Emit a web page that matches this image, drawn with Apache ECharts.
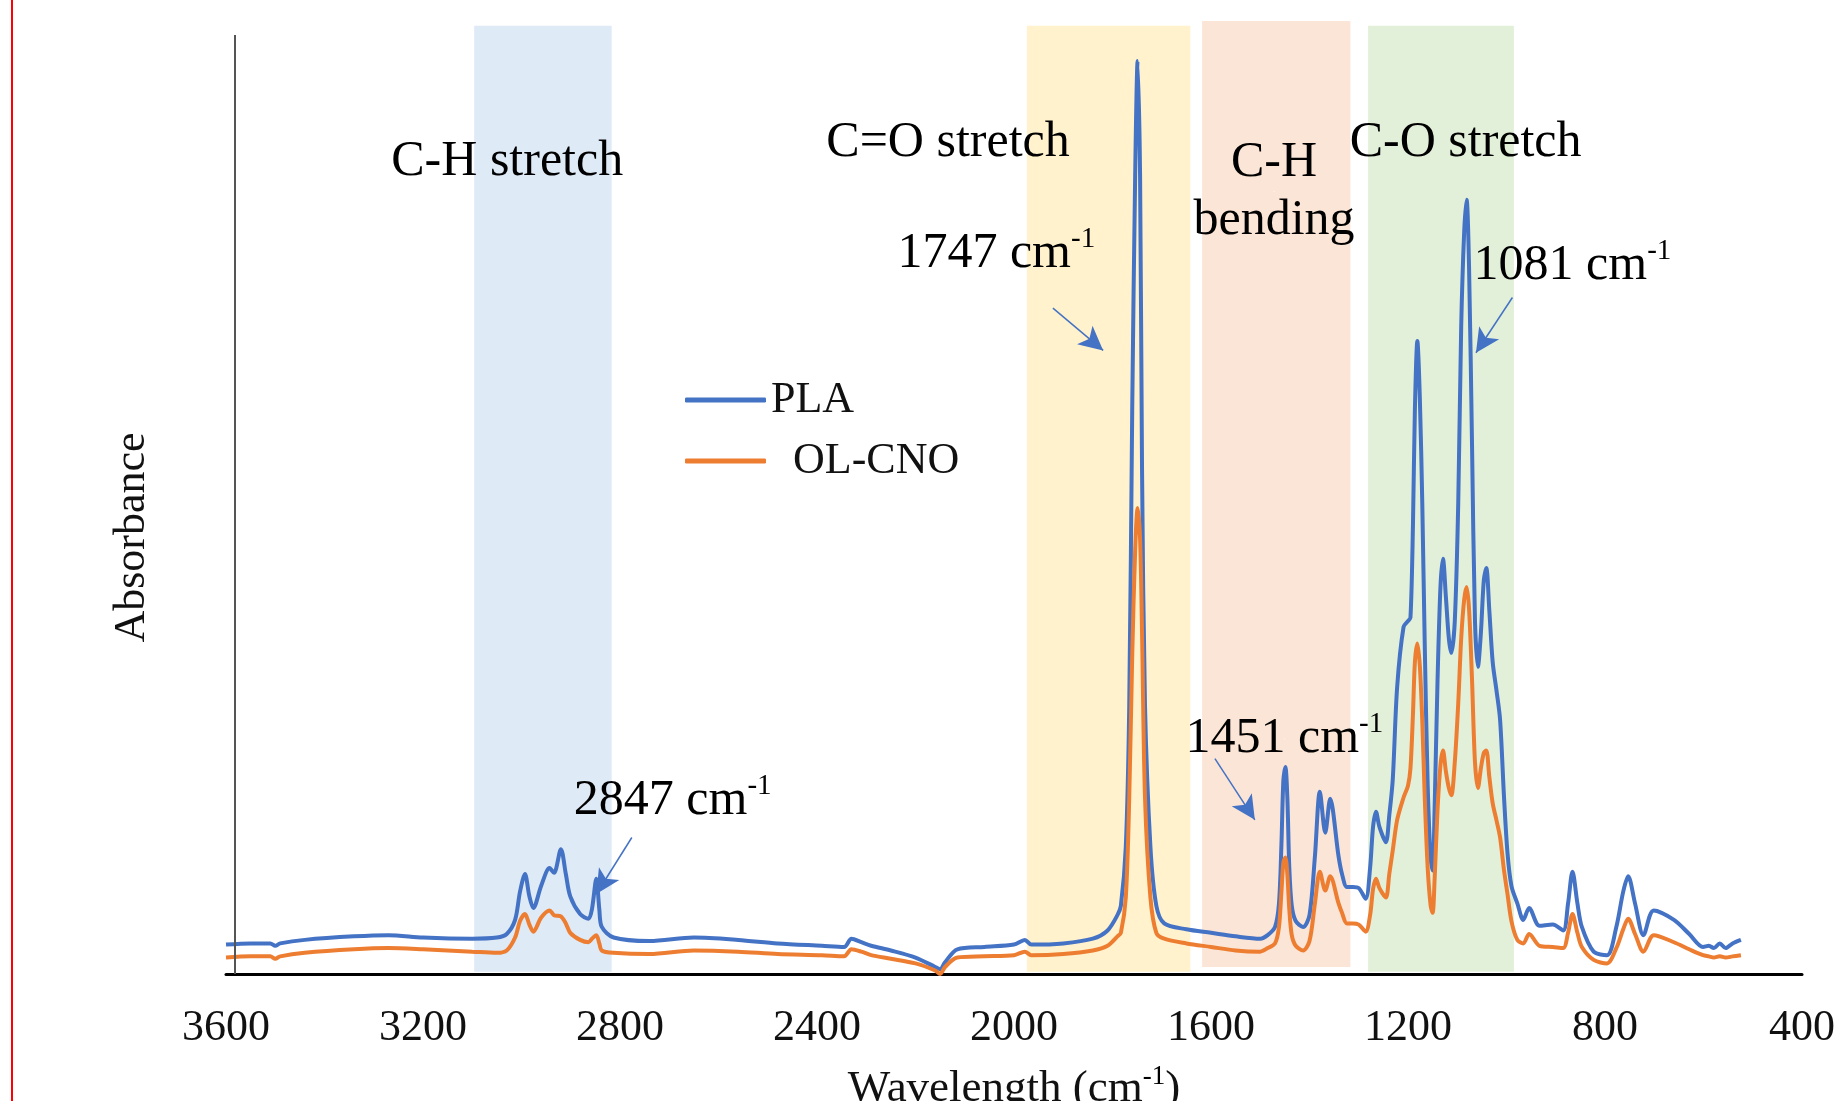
<!DOCTYPE html>
<html>
<head>
<meta charset="utf-8">
<title>FTIR PLA / OL-CNO</title>
<script src="https://cdn.jsdelivr.net/npm/echarts@6/dist/echarts.min.js"></script>
<style>
  html, body { margin: 0; padding: 0; background: #fff; }
  #chart { width: 1844px; height: 1101px; }
</style>
</head>
<body>
<div id="chart"></div>
<script>
// Wavenumber (cm-1) and absorbance.
const wavenumbers = [
  3600, 3550, 3510, 3500, 3490, 3440, 3340, 3270, 3200, 3100, 3050, 3030, 3013, 3003, 2993, 2984, 2976, 2960,
  2943, 2934, 2920, 2910, 2901, 2881, 2864, 2857, 2848, 2842, 2837, 2813, 2740, 2650, 2560, 2480, 2390, 2345,
  2330, 2310, 2290, 2250, 2200, 2160, 2150, 2140, 2115, 2060, 2000, 1978, 1965, 1900, 1840, 1810, 1790, 1783,
  1773, 1766, 1760, 1754, 1749, 1744, 1740, 1734, 1723, 1711, 1695, 1650, 1600, 1550, 1500, 1485, 1470, 1462,
  1457, 1453, 1449, 1445, 1441, 1436, 1428, 1413, 1400, 1389, 1379, 1368, 1358, 1341, 1334, 1324, 1312, 1300,
  1286, 1277, 1271, 1265, 1258, 1245, 1238, 1231, 1222, 1209, 1200, 1195, 1190, 1186, 1181, 1176, 1171, 1166,
  1160, 1154, 1150, 1146, 1140, 1134, 1129, 1123, 1117, 1112, 1105, 1098, 1092, 1086, 1081, 1076, 1070, 1064,
  1058, 1052, 1046, 1041, 1035, 1028, 1020, 1013, 1005, 998, 990, 978, 966, 954, 933, 906, 885, 875,
  866, 856, 847, 823, 796, 777, 763, 753, 739, 722, 701, 660, 629, 601, 589, 579, 567, 555,
  541, 524
];
const plaAbs = [
  0.025, 0.026, 0.026, 0.024, 0.026, 0.029, 0.032, 0.033, 0.031, 0.030, 0.031, 0.034, 0.046, 0.070, 0.085, 0.066, 0.056, 0.075,
  0.090, 0.086, 0.106, 0.085, 0.066, 0.051, 0.047, 0.055, 0.081, 0.055, 0.040, 0.031, 0.028, 0.031, 0.029, 0.026, 0.024, 0.023,
  0.030, 0.027, 0.024, 0.020, 0.014, 0.006, 0.004, 0.010, 0.021, 0.023, 0.025, 0.029, 0.025, 0.026, 0.030, 0.037, 0.050, 0.058,
  0.108, 0.228, 0.478, 0.678, 0.776, 0.678, 0.428, 0.228, 0.108, 0.058, 0.043, 0.038, 0.035, 0.032, 0.030, 0.033, 0.040, 0.060,
  0.110, 0.165, 0.176, 0.150, 0.090, 0.058, 0.045, 0.040, 0.050, 0.100, 0.155, 0.120, 0.149, 0.100, 0.085, 0.074, 0.074, 0.073,
  0.064, 0.090, 0.125, 0.138, 0.125, 0.112, 0.135, 0.165, 0.244, 0.295, 0.300, 0.303, 0.380, 0.480, 0.538, 0.490, 0.400, 0.280,
  0.160, 0.098, 0.088, 0.140, 0.250, 0.330, 0.353, 0.320, 0.285, 0.273, 0.300, 0.400, 0.550, 0.630, 0.658, 0.600, 0.450, 0.300,
  0.261, 0.290, 0.335, 0.345, 0.310, 0.265, 0.240, 0.216, 0.150, 0.103, 0.075, 0.060, 0.046, 0.056, 0.041, 0.042, 0.037, 0.060,
  0.087, 0.060, 0.040, 0.019, 0.016, 0.040, 0.070, 0.083, 0.060, 0.033, 0.054, 0.046, 0.034, 0.023, 0.024, 0.022, 0.026, 0.022,
  0.026, 0.029
];
const olcnoAbs = [
  0.014, 0.015, 0.015, 0.013, 0.015, 0.018, 0.021, 0.022, 0.021, 0.019, 0.018, 0.020, 0.031, 0.045, 0.051, 0.042, 0.036, 0.048,
  0.054, 0.050, 0.049, 0.043, 0.035, 0.029, 0.027, 0.030, 0.033, 0.026, 0.020, 0.018, 0.017, 0.020, 0.019, 0.017, 0.016, 0.015,
  0.021, 0.019, 0.016, 0.013, 0.009, 0.003, 0.000, 0.006, 0.014, 0.015, 0.016, 0.019, 0.016, 0.017, 0.020, 0.024, 0.032, 0.035,
  0.065, 0.150, 0.270, 0.360, 0.396, 0.370, 0.290, 0.150, 0.065, 0.035, 0.030, 0.026, 0.023, 0.020, 0.019, 0.022, 0.026, 0.040,
  0.070, 0.095, 0.099, 0.085, 0.055, 0.033, 0.024, 0.020, 0.028, 0.060, 0.087, 0.071, 0.083, 0.060, 0.052, 0.043, 0.043, 0.042,
  0.036, 0.050, 0.072, 0.081, 0.073, 0.065, 0.085, 0.105, 0.131, 0.150, 0.160, 0.175, 0.220, 0.265, 0.281, 0.262, 0.215, 0.150,
  0.090, 0.058, 0.052, 0.080, 0.140, 0.178, 0.190, 0.172, 0.158, 0.152, 0.180, 0.230, 0.285, 0.318, 0.329, 0.310, 0.250, 0.180,
  0.158, 0.175, 0.188, 0.190, 0.168, 0.145, 0.130, 0.116, 0.088, 0.068, 0.045, 0.029, 0.026, 0.034, 0.024, 0.023, 0.022, 0.035,
  0.051, 0.035, 0.023, 0.012, 0.009, 0.022, 0.038, 0.047, 0.034, 0.019, 0.033, 0.027, 0.021, 0.016, 0.015, 0.014, 0.015, 0.014,
  0.015, 0.016
];

// Shaded band regions (cm-1) and their fills.
const bandFrom = [3096, 1974, 1618, 1281];
const bandTo = [2817, 1642, 1317, 985];
const bandTop = [0.806, 0.806, 0.810, 0.806];
const bandBottom = [0.002, 0.002, 0.006, 0.002];
const bandColor = ["#DEEAF6", "#FFF2CC", "#FBE5D6", "#E2F0D9"];

// Annotation texts and where they sit (cm-1, absorbance).
const noteText = ["C-H stretch", "C=O stretch", "C-H\nbending", "C-O stretch",
  "1747 cm{s|-1}", "1081 cm{s|-1}", "1451 cm{s|-1}", "2847 cm{s|-1}"];
const noteWn = [3029, 2134, 1472, 1083, 2036, 866, 1451, 2693];
const noteAbs = [0.690, 0.706, 0.665, 0.706, 0.612, 0.602, 0.200, 0.147];

// Arrows pointing at the labelled peaks.
const arrowFrom = [[1921, 0.566], [988, 0.575], [1592, 0.183], [2776, 0.116]];
const arrowTo = [[1819, 0.530], [1062, 0.528], [1511, 0.131], [2848, 0.068]];

const xTicks = { min: 400, max: 3600, step: 400 };
const yAxisLineAt = 3583;
const yAxisLineTop = 0.798;

const SERIF = "'Liberation Serif', 'Times New Roman', serif";
const supStyle = { fontSize: 29, lineHeight: 30, verticalAlign: "top", fontFamily: SERIF, color: "#000" };

const chart = echarts.init(document.getElementById("chart"), null, { renderer: "canvas" });

const pla = wavenumbers.map((w, i) => [w, plaAbs[i]]);
const olcno = wavenumbers.map((w, i) => [w, olcnoAbs[i]]);

chart.setOption({
  backgroundColor: "#fff",
  animation: false,
  textStyle: { fontFamily: SERIF },
  graphic: [
    { type: "rect", left: 11, top: 0, shape: { width: 2, height: 1101 }, style: { fill: "#ff0000" }, silent: true },
  ],
  grid: { left: 226, right: 42, top: 21, bottom: 127, containLabel: false, outerBoundsMode: "none" },
  legend: {
    left: 680, top: 370, orient: "vertical",
    itemWidth: 81, itemHeight: 5, itemGap: 11, icon: "roundRect",
    data: ["PLA", "OL-CNO"],
    formatter: n => (n === "OL-CNO" ? "  " + n : n),
    textStyle: { fontSize: 44, lineHeight: 50, color: "#111", fontFamily: SERIF },
  },
  xAxis: {
    type: "value", min: xTicks.min, max: xTicks.max, interval: xTicks.step, inverse: true,
    axisLine: { show: true, onZero: false, lineStyle: { color: "#000", width: 3 } },
    axisTick: { show: false },
    splitLine: { show: false },
    axisLabel: { fontSize: 44, margin: 32, color: "#111", fontFamily: SERIF, showMinLabel: true, showMaxLabel: true,
      formatter: v => String(v) },
    name: "Wavelength (cm{s|-1})",
    nameLocation: "middle", nameGap: 89,
    nameTextStyle: { fontSize: 45, lineHeight: 52, color: "#111", fontFamily: SERIF,
      rich: { s: Object.assign({}, supStyle, { fontSize: 27, lineHeight: 28 }) } },
  },
  yAxis: {
    type: "value", min: 0, max: 0.81,
    axisLine: { show: false }, axisTick: { show: false }, axisLabel: { show: false }, splitLine: { show: false },
    name: "Absorbance", nameLocation: "middle", nameGap: 72, nameRotate: 90,
    nameTextStyle: { fontSize: 44, color: "#111", fontFamily: SERIF, padding: [0, 80, 0, 0] },
  },
  series: [
    {
      name: "bands", type: "line", data: [], z: 1, silent: true,
      markArea: {
        silent: true,
        data: bandFrom.map((f, i) => [
          { coord: [f, bandBottom[i]], itemStyle: { color: bandColor[i] } },
          { coord: [bandTo[i], bandTop[i]] },
        ]),
      },
      markLine: {
        silent: true, symbol: "none", label: { show: false },
        lineStyle: { color: "#555", width: 2, type: "solid" },
        data: [[{ coord: [yAxisLineAt, 0] }, { coord: [yAxisLineAt, yAxisLineTop] }]],
      },
    },
    {
      name: "PLA", type: "line", data: pla, z: 3,
      showSymbol: false, symbol: "none", smooth: 0.3,
      color: "#4472C4", lineStyle: { color: "#4472C4", width: 4 },
    },
    {
      name: "OL-CNO", type: "line", data: olcno, z: 3,
      showSymbol: false, symbol: "none", smooth: 0.3,
      color: "#ED7D31", lineStyle: { color: "#ED7D31", width: 4 },
    },
    {
      name: "arrows", type: "line", data: [], z: 4, silent: true,
      markLine: {
        silent: true, symbol: ["none", "arrow"], symbolSize: [18, 24], label: { show: false },
        lineStyle: { color: "#4472C4", width: 1.5, type: "solid" },
        data: arrowFrom.map((p, i) => [{ coord: p }, { coord: arrowTo[i] }]),
      },
    },
    {
      name: "notes", type: "scatter", z: 5, silent: true,
      symbolSize: 1, itemStyle: { color: "#ffffff", opacity: 1 },
      data: noteWn.map((w, i) => [w, noteAbs[i], noteText[i]]),
      label: {
        show: true, position: "inside", formatter: p => p.data[2],
        fontSize: 50, lineHeight: 58, color: "#000", fontFamily: SERIF,
        textBorderWidth: 0, opacity: 1,
        rich: { s: supStyle },
      },
      labelLayout: { hideOverlap: false },
    },
  ],
});
</script>
</body>
</html>
